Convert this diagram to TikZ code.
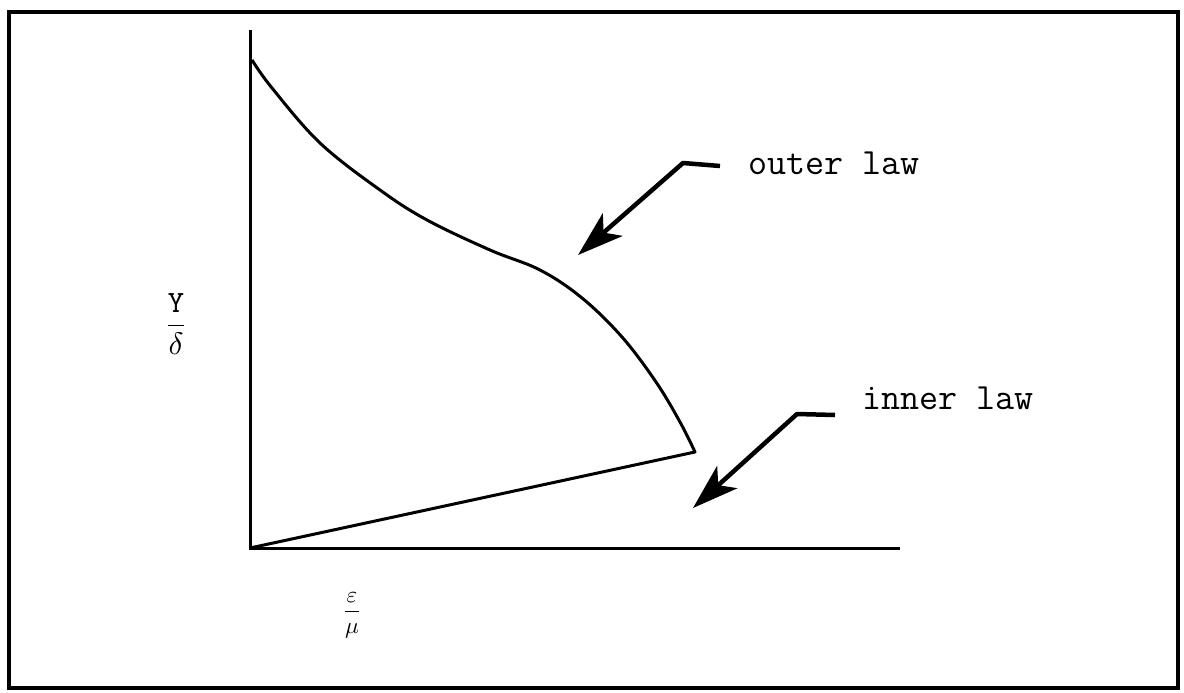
\documentclass[tikz,border=0pt]{standalone}
\usepackage{amsmath}
\usetikzlibrary{arrows.meta,positioning}

\begin{document}
\begin{tikzpicture}[
x=1pt,y=-1pt,
lawlabel/.style={
font=\ttfamily\fontsize{37}{40}\selectfont,
anchor=west,
inner sep=0pt
},
pointer/.style={
line width=4.5pt,
line join=round,
-{Stealth[length=46pt,width=30pt,inset=12pt]}
},
axisline/.style={line width=3pt},
profile/.style={line width=3pt,line join=round}
]
\useasboundingbox (0,0) rectangle (1184,693);
\draw[line width=3.5pt] (9,12) rectangle (1178,688);

% axes
\coordinate (origin) at (250,548);
\coordinate (ytop) at (250,30);
\coordinate (xend) at (900,548);
\draw[axisline] (ytop) -- (origin) -- (xend);

% velocity profile
\coordinate (corner) at (695,452);
\draw[profile] plot[smooth,tension=0.6] coordinates {
(252,60) (272,88) (320,143) (380,190) (427,220) (490,250)
(540,270) (582,298) (622,337) (656,382) (680,422) (695,452)}
-- (origin);

% axis labels
\node[scale=3.1] (ylab) at (176,324) {$\dfrac{\mathtt{Y}}{\delta}$};
\node[scale=2.3] (xlab) at (352,615) {$\dfrac{\varepsilon}{\mu}$};

% labels and pointers
\node[lawlabel] (outer) at (748,163) {outer law};
\node[lawlabel] (inner) at (862,398) {inner law};

\coordinate (outertip) at (578,255);
\coordinate (innertip) at (693,508);

\draw[pointer] ([xshift=-28pt,yshift=-3pt]outer.west) -- (683,163) -- (outertip);
\draw[pointer] ([xshift=-27pt,yshift=-17pt]inner.west) -- (797,414) -- (innertip);
\end{tikzpicture}
\end{document}
